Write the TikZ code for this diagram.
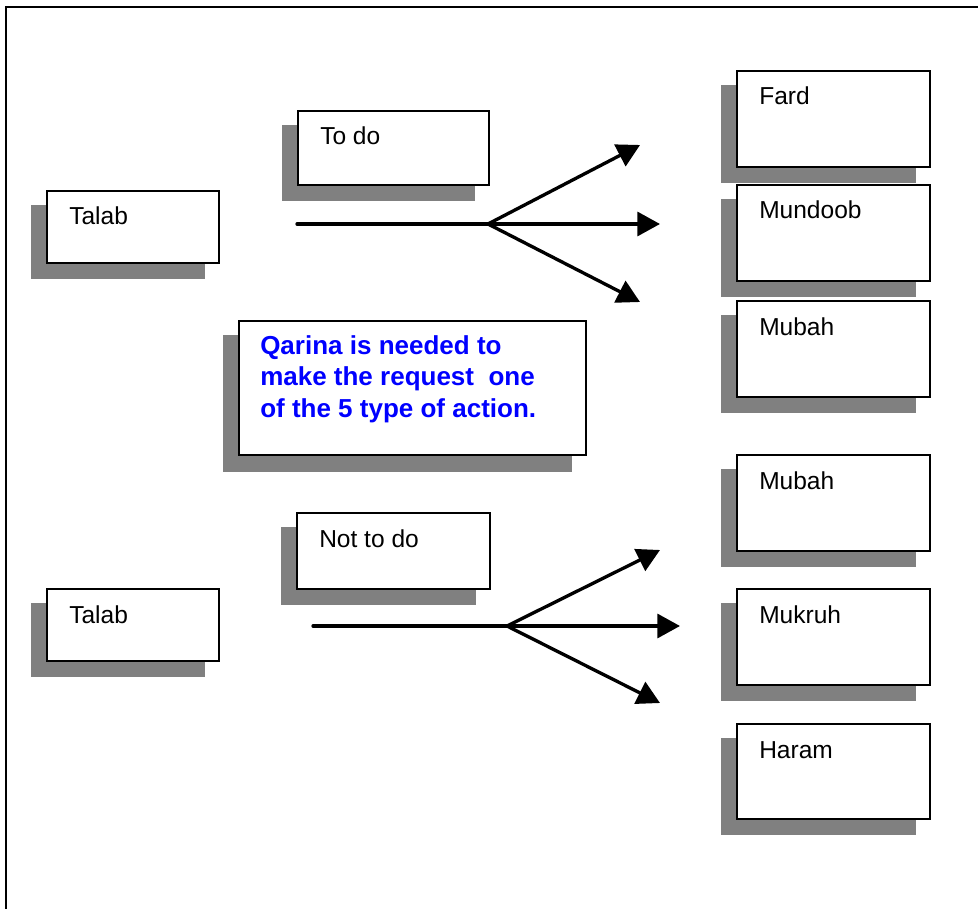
\documentclass[tikz,border=0pt]{standalone}
\usepackage{fontspec}
\setmainfont{Liberation Sans}
\usetikzlibrary{arrows.meta,calc}
\definecolor{shadowgray}{HTML}{808080}
\definecolor{notecolor}{RGB}{0,0,255}
\tikzset{
  boxst/.style={draw=black, line width=1.2pt, fill=white, inner sep=0pt, rectangle},
  lblst/.style={inner sep=0pt, font=\fontsize{18.4pt}{22pt}\selectfont},
  notest/.style={inner sep=0pt, align=left, text=notecolor,
     font=\bfseries\fontsize{19.5pt}{23.8pt}\selectfont},
  arr/.style={line width=2.5pt, -{Triangle[length=17pt,width=18pt]}},
  stem/.style={line width=2.5pt, line cap=round},
  frame/.style={line width=1.6pt}
}
\newcommand{\shbox}[6]{%
  \fill[shadowgray] (#2-15,#3+15) rectangle (#4-13,#5+17);
  \node[boxst, anchor=north west, minimum width={(#4-#2)*0.75pt}, minimum height={(#5-#3)*0.75pt}] (#1) at (#2,#3) {};
  \node[lblst, anchor=base west] (#1-t) at ($(#1.north west)+(23,35)$) {#6};
}
\begin{document}
\begin{tikzpicture}[x=0.75pt, y=-0.75pt]
\useasboundingbox (0,0) rectangle (978,909);
% frame
\draw[frame] (6,940) -- (6,7) -- (1000,7);

% upper group
\shbox{talabA}{46}{190}{218}{262}{Talab}
\shbox{todo}{297}{110}{488}{184}{To do}
\shbox{fard}{736}{70}{929}{166}{Fard}
\shbox{mundoob}{736}{184}{929}{280}{Mundoob}
\shbox{mubahA}{736}{300}{929}{396}{Mubah}

% note
\fill[shadowgray] (223,335) rectangle (572,472);
\node[boxst, anchor=north west, minimum width={(585-238)*0.75pt}, minimum height={(454-320)*0.75pt}] (note) at (238,320) {};
\node[notest, anchor=north west] (note-t) at (260,335) {Qarina is needed to\\make the request\ \ one\\of the 5 type of action.};

% lower group
\shbox{talabB}{46}{588}{218}{660}{Talab}
\shbox{nottodo}{296}{512}{489}{588}{Not to do}
\shbox{mubahB}{736}{454}{929}{550}{Mubah}
\shbox{mukruh}{736}{588}{929}{684}{Mukruh}
\shbox{haram}{736}{723}{929}{818}{Haram}

% upper arrows
\coordinate (s1) at (297,224);
\coordinate (j1) at (488,224);
\coordinate (t1a) at (640,145);
\coordinate (t1b) at (660,224);
\coordinate (t1c) at (640,302);
\draw[stem] (s1) -- (j1);
\draw[arr] (j1) -- (t1a);
\draw[arr] (j1) -- (t1b);
\draw[arr] (j1) -- (t1c);

% lower arrows
\coordinate (s2) at (313,626);
\coordinate (j2) at (507,626);
\coordinate (t2a) at (660,550);
\coordinate (t2b) at (680,626);
\coordinate (t2c) at (660,703);
\draw[stem] (s2) -- (j2);
\draw[arr] (j2) -- (t2a);
\draw[arr] (j2) -- (t2b);
\draw[arr] (j2) -- (t2c);
\end{tikzpicture}
\end{document}
